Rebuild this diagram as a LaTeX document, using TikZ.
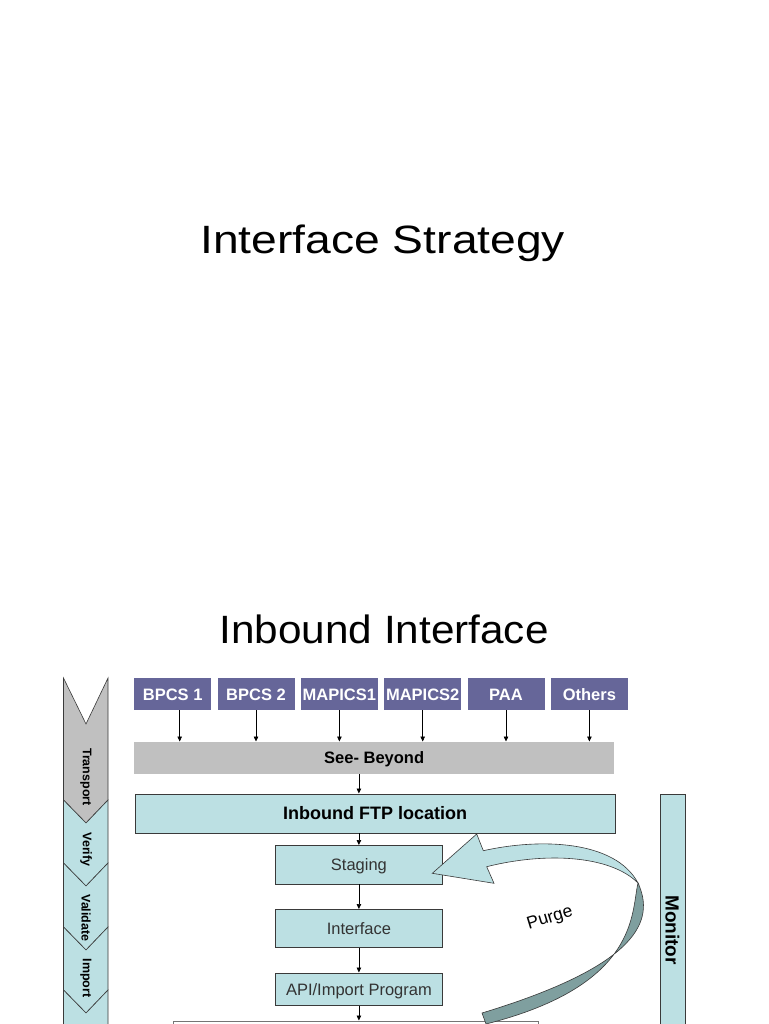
\documentclass[tikz,border=0pt]{standalone}
\usepackage{fontspec}
\setmainfont{Liberation Sans}
\newfontfamily\titleA[FakeStretch=1.17]{Liberation Sans}
\newfontfamily\titleB[FakeStretch=1.07]{Liberation Sans}
\usetikzlibrary{arrows.meta}
\definecolor{lblue}{HTML}{BCE0E3}
\definecolor{purp}{HTML}{666699}
\definecolor{lgrey}{HTML}{C0C0C0}
\definecolor{dteal}{HTML}{7F9F9F}
\definecolor{edgec}{HTML}{3A3A3A}
\definecolor{txtc}{HTML}{333333}
\begin{document}
\begin{tikzpicture}[x=1pt,y=-1pt,
  src/.style={fill=purp, text=white, font=\bfseries\fontsize{16.5}{18}\selectfont,
    text height=11.8pt, text depth=0pt,
    minimum width=77pt, minimum height=32pt, inner sep=0pt, anchor=north west},
  flowbox/.style={draw=edgec, line width=0.8pt, fill=lblue, inner sep=0pt, anchor=north west,
    text=txtc, font=\fontsize{16.5}{18}\selectfont, text height=11.8pt, text depth=0pt},
  arr/.style={draw=black, line width=0.7pt, -{Triangle[length=5pt,width=4.5pt]}},
  chev/.style={draw=edgec, line width=0.6pt},
  chevlab/.style={rotate=-90, inner sep=0pt, font=\bfseries\fontsize{12.5}{14}\selectfont, text=black},
  title/.style={anchor=base, inner sep=0pt, text=black}
]
\useasboundingbox[fill=white] (0,0) rectangle (768,1024);

% titles
\node[title, font=\titleA\fontsize{39.5}{44}\selectfont] (t1) at (382.7,253) {Interface Strategy};
\node[title, font=\titleB\fontsize{39.5}{44}\selectfont] (t2) at (384.2,643) {Inbound Interface};

% left chevron strip
\draw[chev, fill=lgrey] (63.5,678) -- (86,724) -- (108,678) -- (108,800) -- (86,823) -- (63.5,800) -- cycle;
\draw[chev, fill=lblue] (63.5,800) -- (86,823) -- (108,800) -- (108,863) -- (86,886) -- (63.5,863) -- cycle;
\draw[chev, fill=lblue] (63.5,863) -- (86,886) -- (108,863) -- (108,927) -- (86,950) -- (63.5,927) -- cycle;
\draw[chev, fill=lblue] (63.5,927) -- (86,950) -- (108,927) -- (108,990) -- (86,1013) -- (63.5,990) -- cycle;
\draw[chev, fill=lblue] (63.5,990) -- (86,1013) -- (108,990) -- (108,1045) -- (86,1068) -- (63.5,1045) -- cycle;
\node[chevlab] (ltr) at (86,777) {Transport};
\node[chevlab] (lve) at (86,849.5) {Verify};
\node[chevlab] (lva) at (86,918) {Validate};
\node[chevlab] (lim) at (86,978) {Import};

% source systems
\node[src] (b1) at (134,678) {BPCS 1};
\node[src] (b2) at (217.3,678) {BPCS 2};
\node[src] (b3) at (300.7,678) {MAPICS1};
\node[src] (b4) at (384,678) {MAPICS2};
\node[src] (b5) at (467.3,678) {PAA};
\node[src] (b6) at (550.7,678) {Others};

% See-Beyond
\node[fill=lgrey, minimum width=480pt, minimum height=32.5pt, inner sep=0pt, anchor=north west,
  font=\bfseries\fontsize{16.5}{18}\selectfont, text height=11.8pt, text depth=0pt] (see) at (134,741.5) {See- Beyond};

\draw[arr] ([xshift=7pt]b1.south) -- ([xshift=7pt]b1.south |- see.north);
\foreach \b in {b2,b3,b4,b5,b6}{
  \draw[arr] (\b.south) -- (\b.south |- see.north);
}

% flow boxes
\node[flowbox, minimum width=480.5pt, minimum height=39pt, text=black,
  font=\bfseries\fontsize{18}{20}\selectfont, text height=12.9pt] (ftp) at (134.5,793.5) {Inbound FTP location};
\node[flowbox, minimum width=167pt, minimum height=38.5pt] (stg) at (275,845) {Staging};
\node[flowbox, minimum width=167pt, minimum height=38pt] (itf) at (275,909) {Interface};
\node[flowbox, minimum width=167pt, minimum height=32.5pt] (api) at (275,972.5) {API/Import Program};
\node[draw=edgec!70, line width=0.8pt, fill=white, minimum width=365pt, minimum height=30pt,
  inner sep=0pt, anchor=north west] (bot) at (173,1020.5) {};

\draw[arr] (stg.north |- see.south) -- (stg.north |- ftp.north);
\draw[arr] (stg.north |- ftp.south) -- (stg.north);
\draw[arr] (stg.south) -- (itf.north);
\draw[arr] (itf.south) -- (api.north);
\draw[arr] (api.south) -- (api.south |- bot.north);

% monitor
\node[draw=edgec, line width=0.8pt, fill=lblue, minimum width=25.5pt, minimum height=250pt,
  inner sep=0pt, anchor=north west] (mon) at (659.5,793.5) {};
\node[rotate=-90, inner sep=0pt, font=\bfseries\fontsize{19}{21}\selectfont] (monl) at (672.5,930) {Monitor};

% purge ribbon arrow
\draw[draw=edgec, line width=0.6pt, fill=dteal]
  (638,883) .. controls (655,920) and (640,965) .. (482,1013)
  -- (486,1024) -- (487,1030) -- (486,1024)
  .. controls (640,985) and (631,912) .. (638,883) -- cycle;
\draw[draw=edgec, line width=0.6pt, fill=lblue]
  (432.3,873.3) -- (476.7,834) -- (483.3,850.7)
  .. controls (540,838) and (615,840) .. (638,883)
  .. controls (610,855) and (545,852) .. (486.7,866.7)
  -- (494,883.3) -- cycle;
\node[rotate=17, inner sep=0pt, font=\fontsize{17.5}{19}\selectfont] (purge) at (550,918.5) {Purge};
\end{tikzpicture}
\end{document}
